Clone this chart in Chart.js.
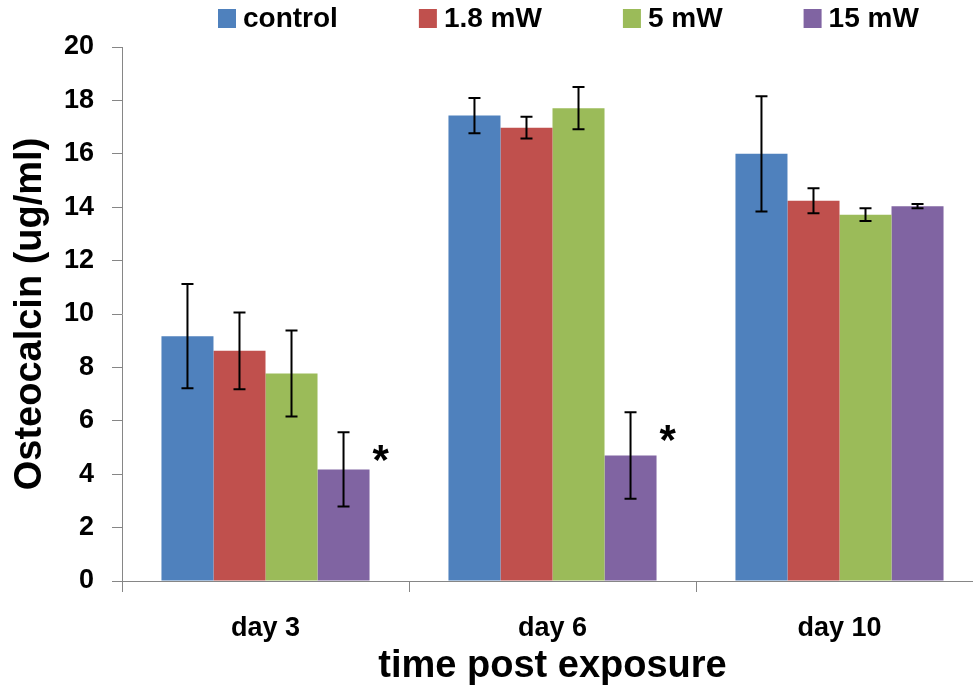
<!DOCTYPE html>
<html>
<head>
<meta charset="utf-8">
<script src="https://cdn.jsdelivr.net/npm/chart.js@4/dist/chart.umd.min.js"></script>
<style>
  html, body { margin: 0; padding: 0; background: #fff; overflow: hidden; }
  #chart { display: block; }
</style>
</head>
<body>
<canvas id="chart" width="990" height="689"></canvas>
<script>
// ---------- Data ----------
const categories = ['day 3', 'day 6', 'day 10'];
const seriesLabels = ['control', '1.8 mW', '5 mW', '15 mW'];
const seriesColors = ['#4F81BD', '#C0504D', '#9BBB59', '#8064A2'];

const controlValues = [9.17, 17.43, 16.0];
const mw18Values = [8.62, 16.98, 14.24];
const mw5Values = [7.77, 17.71, 13.72];
const mw15Values = [4.18, 4.70, 14.04];

const controlErr = [1.95, 0.66, 2.16];
const mw18Err = [1.44, 0.41, 0.47];
const mw5Err = [1.61, 0.79, 0.24];
const mw15Err = [1.39, 1.62, 0.08];

// significance marks shown next to the 15 mW bars
const mw15Marks = ['*', '*', ''];

const yMin = 0;
const yMax = 20;
const yStep = 2;

const FONT = '"Liberation Sans Narrow", "Liberation Sans", Arial, sans-serif';
const AXIS_GRAY = '#868686';

// ---------- Plugins ----------
// error bars + significance stars
const errorBarPlugin = {
  id: 'errorBars',
  afterDatasetsDraw(chart) {
    const ctx = chart.ctx;
    const yScale = chart.scales.y;
    ctx.save();
    ctx.strokeStyle = '#000';
    ctx.lineWidth = 2;
    chart.data.datasets.forEach((ds, i) => {
      const meta = chart.getDatasetMeta(i);
      meta.data.forEach((bar, j) => {
        const v = ds.data[j];
        const e = ds.errors[j];
        const yTop = yScale.getPixelForValue(v + e);
        const yBot = yScale.getPixelForValue(v - e);
        const cap = 6;
        ctx.beginPath();
        ctx.moveTo(bar.x, yTop); ctx.lineTo(bar.x, yBot);
        ctx.moveTo(bar.x - cap, yTop); ctx.lineTo(bar.x + cap, yTop);
        ctx.moveTo(bar.x - cap, yBot); ctx.lineTo(bar.x + cap, yBot);
        ctx.stroke();

        const mark = ds.marks ? ds.marks[j] : '';
        if (mark) {
          ctx.fillStyle = '#000';
          ctx.font = 'bold 42px ' + FONT;
          ctx.textAlign = 'left';
          ctx.textBaseline = 'middle';
          ctx.fillText(mark, bar.x + bar.width / 2 + 3, yTop + 30);
        }
      });
    });
    ctx.restore();
  }
};

// legend drawn across the top
const topLegendPlugin = {
  id: 'topLegend',
  afterDraw(chart) {
    const ctx = chart.ctx;
    ctx.save();
    ctx.font = 'bold 28px ' + FONT;
    ctx.textBaseline = 'middle';
    ctx.textAlign = 'left';
    let x = 218;
    const yMid = 18;
    chart.data.datasets.forEach((ds) => {
      ctx.fillStyle = ds.backgroundColor;
      ctx.fillRect(x, yMid - 9, 18, 19);
      ctx.fillStyle = '#000';
      ctx.fillText(ds.label, x + 25, yMid + 1);
      x += 25 + ctx.measureText(ds.label).width + 81;
    });
    ctx.restore();
  }
};

// ---------- Chart ----------
const valueSets = [controlValues, mw18Values, mw5Values, mw15Values];
const errorSets = [controlErr, mw18Err, mw5Err, mw15Err];

const datasets = seriesLabels.map((label, i) => ({
  label: label,
  data: valueSets[i],
  errors: errorSets[i],
  marks: i === 3 ? mw15Marks : null,
  backgroundColor: seriesColors[i],
  borderWidth: 0,
  categoryPercentage: 0.725,
  barPercentage: 1.0
}));

new Chart(document.getElementById('chart'), {
  type: 'bar',
  data: { labels: categories, datasets: datasets },
  options: {
    responsive: false,
    animation: false,
    layout: { padding: { top: 47, right: 7, left: 0, bottom: 0 } },
    plugins: {
      legend: { display: false },
      tooltip: { enabled: false }
    },
    scales: {
      x: {
        afterFit: (scale) => { scale.height = 108; },
        grid: {
          display: true,
          drawOnChartArea: false,
          drawTicks: true,
          tickLength: 11,
          color: AXIS_GRAY,
          offset: true
        },
        border: { display: true, color: AXIS_GRAY, width: 1 },
        ticks: {
          color: '#000',
          padding: 20,
          font: { family: FONT, size: 27, weight: 'bold' }
        },
        title: {
          display: true,
          text: 'time post exposure',
          color: '#000',
          padding: { top: 0, bottom: 0 },
          font: { family: FONT, size: 38, weight: 'bold', lineHeight: 1.2 }
        }
      },
      y: {
        min: yMin,
        max: yMax,
        afterFit: (scale) => { scale.width = 122; },
        grid: {
          display: true,
          drawOnChartArea: false,
          drawTicks: true,
          tickLength: 10,
          color: AXIS_GRAY
        },
        border: { display: true, color: AXIS_GRAY, width: 1 },
        ticks: {
          stepSize: yStep,
          color: '#000',
          padding: 18,
          font: { family: FONT, size: 27, weight: 'bold' }
        },
        title: {
          display: true,
          text: 'Osteocalcin (ug/ml)',
          color: '#000',
          padding: { top: 8, bottom: 0 },
          font: { family: FONT, size: 38, weight: 'bold', lineHeight: 1.2 }
        }
      }
    }
  },
  plugins: [errorBarPlugin, topLegendPlugin]
});
</script>
</body>
</html>
